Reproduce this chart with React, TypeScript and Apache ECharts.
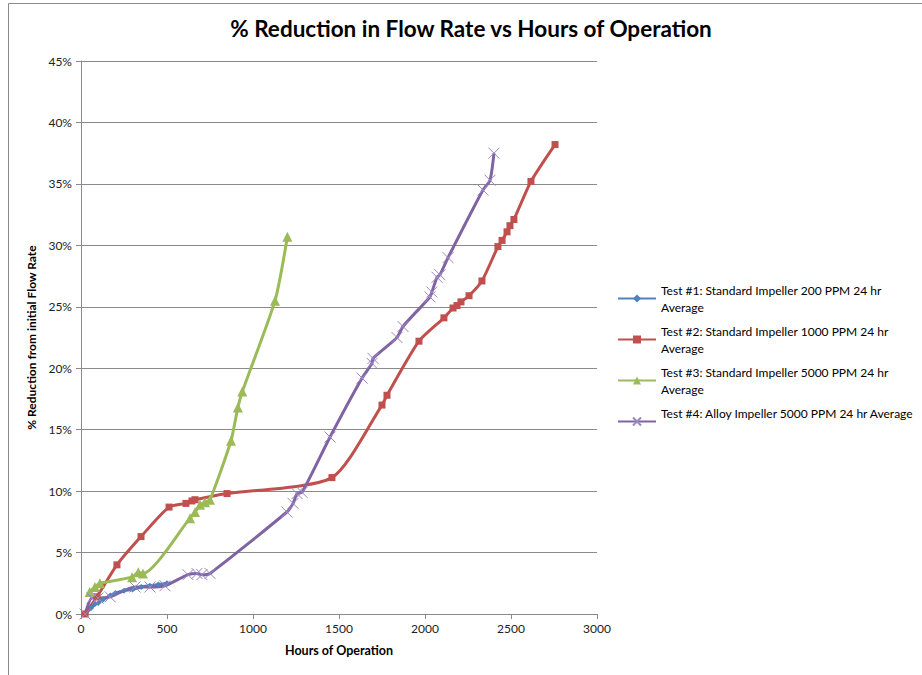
import React, { useEffect, useRef } from "react";
import * as echarts from "echarts";

// Hours of operation and % reduction in flow rate for each test run
const test1Hours = [24, 60, 80, 100, 130, 170, 200, 250, 300, 350, 400, 450, 500];
const test1Pct = [0, 0.5, 0.8, 0.9, 1.2, 1.5, 1.7, 1.9, 2.0, 2.2, 2.3, 2.4, 2.5];

const test2Hours = [24, 93, 209, 349, 512, 610, 645, 663, 849, 1459, 1750, 1779, 1965, 2110, 2163, 2186, 2209, 2256, 2331, 2424, 2448, 2477, 2494, 2517, 2616, 2756];
const test2Pct = [0, 1.4, 4.0, 6.3, 8.7, 9.0, 9.2, 9.3, 9.8, 11.1, 17.0, 17.8, 22.2, 24.1, 24.9, 25.1, 25.4, 25.9, 27.1, 29.9, 30.4, 31.1, 31.6, 32.1, 35.2, 38.2];

const test3Hours = [50, 81, 110, 297, 333, 360, 634, 663, 692, 721, 750, 872, 912, 938, 1128, 1200];
const test3Pct = [1.8, 2.2, 2.5, 3.0, 3.4, 3.3, 7.8, 8.3, 8.9, 9.1, 9.3, 14.1, 16.8, 18.1, 25.5, 30.7];

const test4Hours = [24, 64, 99, 169, 314, 401, 488, 622, 674, 703, 750, 1197, 1233, 1256, 1285, 1448, 1634, 1692, 1698, 1837, 1872, 2029, 2040, 2070, 2087, 2134, 2337, 2378, 2401];
const test4Pct = [0, 1.3, 1.3, 1.4, 2.2, 2.2, 2.3, 3.2, 3.3, 3.2, 3.3, 8.3, 9.0, 9.8, 9.9, 14.4, 19.2, 20.4, 20.8, 22.5, 23.4, 25.8, 26.2, 27.4, 27.6, 29.0, 34.5, 35.3, 37.5];

const seriesNames = [
  "Test #1: Standard Impeller 200 PPM 24 hr Average",
  "Test #2: Standard Impeller 1000 PPM 24 hr Average",
  "Test #3: Standard Impeller 5000 PPM 24 hr Average",
  "Test #4: Alloy Impeller 5000 PPM 24 hr Average",
];

const xTicks = { min: 0, max: 3000, interval: 500 };
const yTicks = { min: 0, max: 45, interval: 5 };

const FONT = "Lato, 'Open Sans', sans-serif";

const pairs = (xs: number[], ys: number[]) => xs.map((x, i) => [x, ys[i]]);

export default function App() {
  const ref = useRef<HTMLDivElement>(null);

  useEffect(() => {
    document.body.style.margin = "0";
    if (!ref.current) return;
    const chart = echarts.init(ref.current, undefined, { renderer: "svg" });

    const lineBase = {
      type: "line" as const,
      smooth: 0.22,
      showAllSymbol: true,
      z: 3,
    };

    chart.setOption({
      animation: false,
      backgroundColor: "#ffffff",
      textStyle: { fontFamily: FONT },
      title: {
        text: "% Reduction in Flow Rate vs Hours of Operation",
        left: 471,
        top: 17,
        padding: 0,
        textAlign: "center",
        textStyle: { fontFamily: FONT, fontSize: 22.5, fontWeight: "bold", color: "#000" },
      },
      graphic: [
        {
          type: "rect",
          silent: true,
          z: -10,
          shape: { x: 8.5, y: 3.5, width: 1000, height: 1000 },
          style: { fill: "none", stroke: "#8a8a8a", lineWidth: 1 },
        },
      ],
      legend: {
        orient: "vertical",
        left: 617,
        top: 273,
        padding: 0,
        itemGap: -10,
        itemWidth: 38,
        itemHeight: 10,
        data: seriesNames,
        formatter: (name: string) =>
          name.startsWith("Test #4") ? name + "\n " : name.replace(" 24 hr Average", " 24 hr\nAverage"),
        textStyle: {
          fontFamily: FONT,
          fontSize: 12,
          color: "#000",
          lineHeight: 17,
          padding: [17, 0, 0, 0],
        },
      },
      grid: { left: 81, right: 325, top: 61, bottom: 61 },
      xAxis: {
        type: "value",
        ...xTicks,
        name: "Hours of Operation",
        nameLocation: "middle",
        nameGap: 30,
        nameTextStyle: { fontFamily: FONT, fontSize: 12.5, fontWeight: "bold", color: "#000" },
        axisLine: { lineStyle: { color: "#8a8a8a" } },
        axisTick: { show: true, length: 5, lineStyle: { color: "#8a8a8a" } },
        axisLabel: {
          fontFamily: FONT,
          fontSize: 12,
          color: "#222",
          margin: 8,
          formatter: (v: number) => String(v),
        },
        splitLine: { show: false },
      },
      yAxis: {
        type: "value",
        ...yTicks,
        name: "% Reduction from initial Flow Rate",
        nameLocation: "middle",
        nameGap: 40,
        nameTextStyle: { fontFamily: FONT, fontSize: 12, fontWeight: "bold", color: "#000" },
        axisLine: { show: true, lineStyle: { color: "#8a8a8a" } },
        axisTick: { show: true, length: 5, lineStyle: { color: "#8a8a8a" } },
        axisLabel: { fontFamily: FONT, fontSize: 12, color: "#222", margin: 9, formatter: "{value}%" },
        splitLine: { show: true, lineStyle: { color: "#8a8a8a", width: 1 } },
      },
      series: [
        {
          ...lineBase,
          name: seriesNames[0],
          data: pairs(test1Hours, test1Pct),
          symbol: "diamond",
          symbolSize: 6,
          lineStyle: { color: "#4F81BD", width: 3 },
          itemStyle: { color: "#4F81BD" },
        },
        {
          ...lineBase,
          name: seriesNames[1],
          data: pairs(test2Hours, test2Pct),
          symbol: "rect",
          symbolSize: 7,
          lineStyle: { color: "#C0504D", width: 3 },
          itemStyle: { color: "#C0504D" },
        },
        {
          ...lineBase,
          name: seriesNames[2],
          data: pairs(test3Hours, test3Pct),
          symbol: "triangle",
          symbolSize: 10,
          lineStyle: { color: "#9BBB59", width: 3 },
          itemStyle: { color: "#9BBB59" },
        },
        {
          ...lineBase,
          name: seriesNames[3],
          data: pairs(test4Hours, test4Pct),
          symbol: "path://M0,0L10,10M10,0L0,10",
          symbolSize: 11,
          lineStyle: { color: "#8064A2", width: 3 },
          itemStyle: { color: "transparent", borderColor: "#9c86c4", borderWidth: 1 },
        },
      ],
    });

    return () => chart.dispose();
  }, []);

  return <div ref={ref} style={{ width: 922, height: 675 }} />;
}
